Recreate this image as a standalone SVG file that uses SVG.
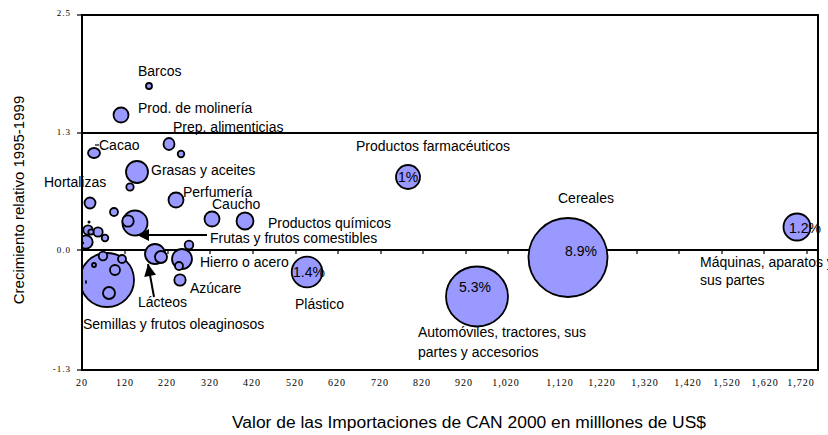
<svg xmlns="http://www.w3.org/2000/svg" width="828" height="435" viewBox="0 0 828 435">
<style>
.b{fill:#9999FF;stroke:#000;stroke-width:1.8}
.d{fill:#000}
.ln{stroke:#000;stroke-width:2;fill:none}
.tk{stroke:#000;stroke-width:1.2}
.lb{font-family:"Liberation Sans",Arial,sans-serif;font-size:14px;fill:#000}
.ax{font-family:"Liberation Serif","Times New Roman",serif;font-size:10px;letter-spacing:1px;fill:#000}
.ay{font-family:"Liberation Serif","Times New Roman",serif;font-size:9px;letter-spacing:1px;fill:#000;text-anchor:end}
.tt{font-family:"Liberation Sans",Arial,sans-serif;font-size:15px;fill:#000}
.pc{font-family:"Liberation Sans",Arial,sans-serif;font-size:14px;fill:#000;text-anchor:middle}
</style>
<defs>
<clipPath id="plot"><rect x="82" y="15" width="736" height="355"/></clipPath>
<marker id="ah" viewBox="0 0 10 10" refX="10" refY="5" markerWidth="13" markerHeight="12" markerUnits="userSpaceOnUse" orient="auto"><path d="M0,0 L10,5 L0,10 z" fill="#000"/></marker>
</defs>
<rect width="828" height="435" fill="#fff"/>
<g id="grid">
<line class="ln" x1="81" y1="133" x2="818" y2="133"/>
<line class="ln" x1="81" y1="250" x2="818" y2="250"/>
<g class="tk">
<line x1="125" y1="250" x2="125" y2="254"/><line x1="168" y1="250" x2="168" y2="254"/><line x1="210" y1="250" x2="210" y2="254"/><line x1="253" y1="250" x2="253" y2="254"/><line x1="296" y1="250" x2="296" y2="254"/><line x1="338" y1="250" x2="338" y2="254"/><line x1="381" y1="250" x2="381" y2="254"/><line x1="423" y1="250" x2="423" y2="254"/><line x1="466" y1="250" x2="466" y2="254"/><line x1="508" y1="250" x2="508" y2="254"/><line x1="551" y1="250" x2="551" y2="254"/><line x1="594" y1="250" x2="594" y2="254"/><line x1="637" y1="250" x2="637" y2="254"/><line x1="679" y1="250" x2="679" y2="254"/><line x1="722" y1="250" x2="722" y2="254"/><line x1="764" y1="250" x2="764" y2="254"/><line x1="807" y1="250" x2="807" y2="254"/>
<line x1="77" y1="15" x2="82" y2="15"/><line x1="77" y1="133" x2="82" y2="133"/><line x1="77" y1="250" x2="82" y2="250"/><line x1="77" y1="370" x2="82" y2="370"/>
</g>
</g>
<g id="axis-labels">
<text class="ay" x="71" y="16">2.5</text>
<text class="ay" x="71" y="135">1.3</text>
<text class="ay" x="71" y="253">0.0</text>
<text class="ay" x="71" y="372">-1.3</text>
<g class="ax" text-anchor="middle">
<text x="82" y="386">20</text><text x="125" y="386">120</text><text x="167" y="386">220</text><text x="210" y="386">320</text><text x="252" y="386">420</text><text x="295" y="386">520</text><text x="337" y="386">620</text><text x="380" y="386">720</text><text x="422" y="386">820</text><text x="464" y="386">920</text><text x="506" y="386">1,020</text><text x="560" y="386">1,120</text><text x="602" y="386">1,220</text><text x="645" y="386">1,320</text><text x="688" y="386">1,420</text><text x="727" y="386">1,520</text><text x="765" y="386">1,620</text><text x="801" y="386">1,720</text>
</g>
<text class="tt" x="232" y="428" style="font-size:16px" textLength="474" lengthAdjust="spacingAndGlyphs">Valor de las Importaciones de CAN 2000 en milllones de US$</text>
<text class="tt" transform="translate(24,200) rotate(-90)" text-anchor="middle">Crecimiento relativo 1995-1999</text>
</g>
<g clip-path="url(#plot)">
<g id="barcos"><circle class="b" cx="149" cy="86" r="3"/><text class="lb" x="138" y="76">Barcos</text></g>
<g id="molineria"><circle class="b" cx="121" cy="115" r="7.5"/><text class="lb" x="138" y="113">Prod. de molinería</text></g>
<g id="prep"><ellipse class="b" cx="169" cy="144" rx="5.5" ry="6"/></g>
<g id="cacao"><ellipse class="b" cx="94" cy="153" rx="6" ry="5"/><line class="tk" x1="95" y1="145" x2="99" y2="145"/></g>
<g id="s1"><circle class="b" cx="181" cy="154" r="3.3"/></g>
<g id="grasas"><circle class="b" cx="137" cy="172" r="11"/></g>
<g id="s2"><circle class="b" cx="130" cy="187" r="3.7"/></g>
<g id="hortalizas"><circle class="b" cx="90" cy="203" r="5.5"/></g>
<g id="perfumeria"><circle class="b" cx="176" cy="200" r="7.5"/></g>
<g id="caucho"><circle class="b" cx="212" cy="219" r="7.5"/></g>
<g id="quimicos"><circle class="b" cx="245" cy="221" r="8.5"/></g>
<g id="s3"><circle class="b" cx="114" cy="212" r="4"/></g>
<g id="frutas"><circle class="b" cx="135" cy="223" r="12.5"/><circle class="b" cx="128" cy="221" r="5.7"/></g>
<g id="cluster">
<circle class="d" cx="89" cy="222" r="1.5"/>
<circle class="b" cx="88" cy="230" r="4.7"/>
<circle class="b" cx="98" cy="232" r="4.7"/>
<circle class="b" cx="91" cy="232" r="2.7"/>
<circle class="b" cx="105" cy="238" r="3.3"/>
<circle class="b" cx="86" cy="242" r="6.7"/>
<circle class="d" cx="83" cy="243" r="1.2"/>
</g>
<g id="semillas">
<circle class="b" cx="107" cy="280" r="27"/>
<circle class="b" cx="103" cy="256" r="4.3"/>
<circle class="b" cx="122" cy="259" r="4"/>
<circle class="b" cx="94" cy="265" r="2"/>
<circle class="b" cx="115" cy="270" r="5"/>
<circle class="b" cx="109" cy="293" r="6"/>
<ellipse class="d" cx="86" cy="282" rx="0.9" ry="2"/>
</g>
<g id="lacteos"><circle class="b" cx="155" cy="254" r="10"/><circle class="b" cx="161" cy="257" r="6"/></g>
<g id="hierro"><circle class="b" cx="189" cy="245" r="4.3"/><circle class="b" cx="182" cy="259" r="10"/><circle class="b" cx="179" cy="266" r="4"/></g>
<g id="azucare"><circle class="b" cx="180" cy="280" r="5.7"/></g>
<g id="plastico"><circle class="b" cx="307" cy="272" r="15.3"/></g>
<g id="farmaceuticos"><circle class="b" cx="408" cy="177" r="12"/></g>
<g id="cereales"><circle class="b" cx="568" cy="257.5" r="39.5"/></g>
<g id="automoviles"><ellipse class="b" cx="477" cy="296.5" rx="31" ry="30"/></g>
<g id="maquinas"><circle class="b" cx="797" cy="227" r="13.5"/></g>
</g>
<g id="labels">
<text class="lb" x="173" y="132">Prep. alimenticias</text>
<text class="lb" x="99" y="150">Cacao</text>
<text class="lb" x="151" y="175">Grasas y aceites</text>
<text class="lb" x="44" y="187">Hortalizas</text>
<text class="lb" x="183" y="197">Perfumería</text>
<text class="lb" x="212" y="209">Caucho</text>
<text class="lb" x="268" y="228">Productos químicos</text>
<text class="lb" x="210" y="243">Frutas y frutos comestibles</text>
<text class="lb" x="200" y="267">Hierro o acero</text>
<text class="lb" x="190" y="293">Azúcare</text>
<text class="lb" x="138" y="307">Lácteos</text>
<text class="lb" x="83" y="329">Semillas y frutos oleaginosos</text>
<text class="lb" x="295" y="309">Plástico</text>
<text class="lb" x="433" y="151" text-anchor="middle">Productos farmacéuticos</text>
<text class="lb" x="586" y="203" text-anchor="middle">Cereales</text>
<text class="lb" x="418" y="337">Automóviles, tractores, sus</text>
<text class="lb" x="418" y="357">partes y accesorios</text>
<text class="lb" x="700" y="267">Máquinas, aparatos y</text>
<text class="lb" x="700" y="285">sus partes</text>
<text class="pc" x="309" y="277">1.4%</text>
<text class="pc" x="408" y="182">1%</text>
<text class="pc" x="581" y="256">8.9%</text>
<text class="pc" x="475" y="292">5.3%</text>
<text class="pc" x="805" y="233">1.2%</text>
</g>
<g id="connectors">
<line class="ln" x1="207" y1="235" x2="137" y2="235" marker-end="url(#ah)"/>
<line class="ln" x1="154" y1="297" x2="148" y2="264" marker-end="url(#ah)"/>
</g>
<g id="frame">
<line class="ln" x1="81" y1="15" x2="819" y2="15"/>
<line class="ln" x1="82" y1="14" x2="82" y2="371"/>
<line class="ln" x1="818" y1="14" x2="818" y2="371"/>
<line class="ln" x1="81" y1="370" x2="819" y2="370"/>
</g>
</svg>
